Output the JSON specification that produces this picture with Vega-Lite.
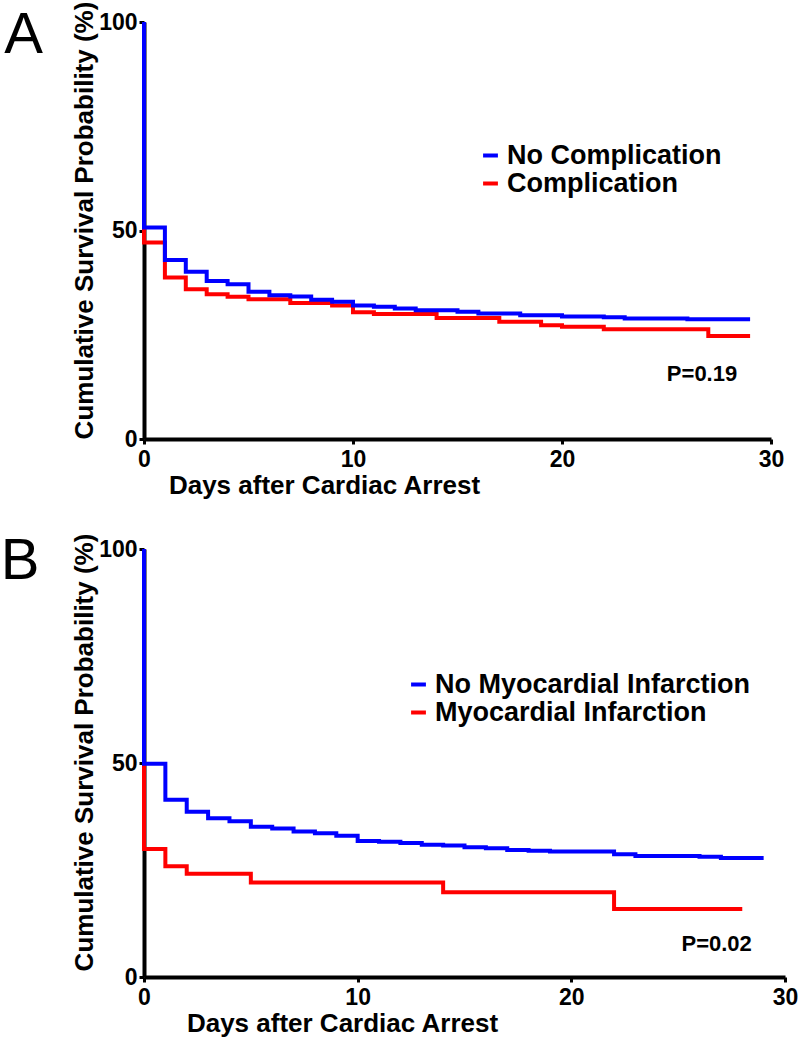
{
  "$schema": "https://vega.github.io/schema/vega-lite/v6.json",
  "background": "white",
  "padding": {"left": 0, "top": 1, "right": 5, "bottom": 5},
  "spacing": 34,
  "config": {
    "view": {"stroke": null},
    "font": "Liberation Sans",
    "axis": {
      "grid": false,
      "labelFlush": false,
      "labelOverlap": false,
      "domainColor": "black",
      "domainWidth": 4,
      "tickColor": "black",
      "tickWidth": 3,
      "tickSize": 5,
      "labelFont": "Liberation Sans",
      "labelFontWeight": "bold",
      "labelFontSize": 23,
      "labelColor": "black",
      "titleFont": "Liberation Sans",
      "titleFontWeight": "bold",
      "titleFontSize": 26,
      "titleColor": "black"
    },
    "legend": {
      "orient": "none",
      "padding": 0,
      "symbolType": "stroke",
      "symbolStrokeWidth": 4,
      "symbolSize": 220,
      "labelFont": "Liberation Sans",
      "labelFontWeight": "bold",
      "labelFontSize": 27,
      "labelColor": "black",
      "labelLimit": 0,
      "labelOffset": 3,
      "rowPadding": 0,
      "title": null
    }
  },
  "resolve": {"scale": {"color": "independent", "x": "independent", "y": "independent"}, "legend": {"color": "independent"}},
  "datasets": {
    "curvesA": [
      {"group": "Complication", "i": 0, "day": 0, "pct": 100},
      {"group": "Complication", "i": 1, "day": 0, "pct": 47.1},
      {"group": "Complication", "i": 2, "day": 1, "pct": 38.7},
      {"group": "Complication", "i": 3, "day": 2, "pct": 35.9},
      {"group": "Complication", "i": 4, "day": 3, "pct": 34.7},
      {"group": "Complication", "i": 5, "day": 4, "pct": 34.1},
      {"group": "Complication", "i": 6, "day": 5, "pct": 33.5},
      {"group": "Complication", "i": 7, "day": 7, "pct": 32.6},
      {"group": "Complication", "i": 8, "day": 9, "pct": 32.0},
      {"group": "Complication", "i": 9, "day": 10, "pct": 30.4},
      {"group": "Complication", "i": 10, "day": 11, "pct": 30.0},
      {"group": "Complication", "i": 11, "day": 14, "pct": 29.0},
      {"group": "Complication", "i": 12, "day": 17, "pct": 28.1},
      {"group": "Complication", "i": 13, "day": 19, "pct": 27.3},
      {"group": "Complication", "i": 14, "day": 20, "pct": 26.9},
      {"group": "Complication", "i": 15, "day": 22, "pct": 26.3},
      {"group": "Complication", "i": 16, "day": 27, "pct": 24.7},
      {"group": "Complication", "i": 17, "day": 29, "pct": 24.7},
      {"group": "No Complication", "i": 0, "day": 0, "pct": 100},
      {"group": "No Complication", "i": 1, "day": 0, "pct": 50.7},
      {"group": "No Complication", "i": 2, "day": 1, "pct": 42.9},
      {"group": "No Complication", "i": 3, "day": 2, "pct": 40.1},
      {"group": "No Complication", "i": 4, "day": 3, "pct": 37.9},
      {"group": "No Complication", "i": 5, "day": 4, "pct": 37.1},
      {"group": "No Complication", "i": 6, "day": 5, "pct": 35.3},
      {"group": "No Complication", "i": 7, "day": 6, "pct": 34.5},
      {"group": "No Complication", "i": 8, "day": 7, "pct": 34.2},
      {"group": "No Complication", "i": 9, "day": 8, "pct": 33.4},
      {"group": "No Complication", "i": 10, "day": 9, "pct": 32.9},
      {"group": "No Complication", "i": 11, "day": 10, "pct": 32.0},
      {"group": "No Complication", "i": 12, "day": 11, "pct": 31.7},
      {"group": "No Complication", "i": 13, "day": 12, "pct": 31.3},
      {"group": "No Complication", "i": 14, "day": 13, "pct": 30.9},
      {"group": "No Complication", "i": 15, "day": 15, "pct": 30.5},
      {"group": "No Complication", "i": 16, "day": 16, "pct": 30.1},
      {"group": "No Complication", "i": 17, "day": 18, "pct": 29.7},
      {"group": "No Complication", "i": 18, "day": 20, "pct": 29.4},
      {"group": "No Complication", "i": 19, "day": 22, "pct": 29.2},
      {"group": "No Complication", "i": 20, "day": 23, "pct": 28.9},
      {"group": "No Complication", "i": 21, "day": 26, "pct": 28.7},
      {"group": "No Complication", "i": 22, "day": 29, "pct": 28.7}
    ],
    "notesA": [
      {"kind": "panel", "label": "A", "day": -5.76, "pct": 92.6},
      {"kind": "p", "label": "P=0.19", "day": 26.7, "pct": 15.6}
    ],
    "curvesB": [
      {"group": "Myocardial Infarction", "i": 0, "day": 0, "pct": 100},
      {"group": "Myocardial Infarction", "i": 1, "day": 0, "pct": 29.9},
      {"group": "Myocardial Infarction", "i": 2, "day": 1, "pct": 25.9},
      {"group": "Myocardial Infarction", "i": 3, "day": 2, "pct": 24.1},
      {"group": "Myocardial Infarction", "i": 4, "day": 5, "pct": 22.1},
      {"group": "Myocardial Infarction", "i": 5, "day": 14, "pct": 19.8},
      {"group": "Myocardial Infarction", "i": 6, "day": 22, "pct": 15.9},
      {"group": "Myocardial Infarction", "i": 7, "day": 28, "pct": 15.9},
      {"group": "No Myocardial Infarction", "i": 0, "day": 0, "pct": 100},
      {"group": "No Myocardial Infarction", "i": 1, "day": 0, "pct": 49.8},
      {"group": "No Myocardial Infarction", "i": 2, "day": 1, "pct": 41.4},
      {"group": "No Myocardial Infarction", "i": 3, "day": 2, "pct": 38.6},
      {"group": "No Myocardial Infarction", "i": 4, "day": 3, "pct": 37.1},
      {"group": "No Myocardial Infarction", "i": 5, "day": 4, "pct": 36.4},
      {"group": "No Myocardial Infarction", "i": 6, "day": 5, "pct": 35.1},
      {"group": "No Myocardial Infarction", "i": 7, "day": 6, "pct": 34.7},
      {"group": "No Myocardial Infarction", "i": 8, "day": 7, "pct": 34.0},
      {"group": "No Myocardial Infarction", "i": 9, "day": 8, "pct": 33.6},
      {"group": "No Myocardial Infarction", "i": 10, "day": 9, "pct": 33.0},
      {"group": "No Myocardial Infarction", "i": 11, "day": 10, "pct": 31.8},
      {"group": "No Myocardial Infarction", "i": 12, "day": 11, "pct": 31.6},
      {"group": "No Myocardial Infarction", "i": 13, "day": 12, "pct": 31.3},
      {"group": "No Myocardial Infarction", "i": 14, "day": 13, "pct": 30.9},
      {"group": "No Myocardial Infarction", "i": 15, "day": 14, "pct": 30.7},
      {"group": "No Myocardial Infarction", "i": 16, "day": 15, "pct": 30.3},
      {"group": "No Myocardial Infarction", "i": 17, "day": 16, "pct": 30.1},
      {"group": "No Myocardial Infarction", "i": 18, "day": 17, "pct": 29.7},
      {"group": "No Myocardial Infarction", "i": 19, "day": 18, "pct": 29.5},
      {"group": "No Myocardial Infarction", "i": 20, "day": 19, "pct": 29.3},
      {"group": "No Myocardial Infarction", "i": 21, "day": 22, "pct": 28.7},
      {"group": "No Myocardial Infarction", "i": 22, "day": 23, "pct": 28.3},
      {"group": "No Myocardial Infarction", "i": 23, "day": 26, "pct": 28.1},
      {"group": "No Myocardial Infarction", "i": 24, "day": 27, "pct": 27.8},
      {"group": "No Myocardial Infarction", "i": 25, "day": 29, "pct": 27.8}
    ],
    "notesB": [
      {"kind": "panel", "label": "B", "day": -5.8, "pct": 93.0},
      {"kind": "p", "label": "P=0.02", "day": 26.8, "pct": 7.8}
    ]
  },
  "vconcat": [
    {
      "width": 627,
      "height": 417,
      "layer": [
        {
          "data": {"name": "curvesA"},
          "mark": {"type": "line", "interpolate": "step-after", "strokeWidth": 4},
          "encoding": {
            "x": {"field": "day", "type": "quantitative", "scale": {"domain": [0, 30], "nice": false},
                  "axis": {"values": [0, 10, 20, 30], "title": "Days after Cardiac Arrest", "labelPadding": 4, "titlePadding": 1, "titleX": 180, "titleAlign": "center"}},
            "y": {"field": "pct", "type": "quantitative", "scale": {"domain": [0, 100], "nice": false},
                  "axis": {"values": [0, 50, 100], "title": "Cumulative Survival Probability (%)", "titleY": 198, "labelPadding": 2, "titlePadding": 1}},
            "color": {"field": "group", "type": "nominal",
                      "scale": {"domain": ["No Complication", "Complication"], "range": ["#0000ff", "#ff0000"]},
                      "legend": {"legendX": 333, "legendY": 120}},
            "order": {"field": "i", "type": "quantitative"}
          }
        },
        {
          "data": {"name": "notesA"},
          "transform": [{"filter": "datum.kind === 'panel'"}],
          "mark": {"type": "text", "fontSize": 58, "font": "Liberation Sans", "fontWeight": "normal", "align": "center", "baseline": "alphabetic", "color": "black"},
          "encoding": {
            "x": {"field": "day", "type": "quantitative"},
            "y": {"field": "pct", "type": "quantitative"},
            "text": {"field": "label"}
          }
        },
        {
          "data": {"name": "notesA"},
          "transform": [{"filter": "datum.kind === 'p'"}],
          "mark": {"type": "text", "fontSize": 22, "font": "Liberation Sans", "fontWeight": "bold", "align": "center", "baseline": "middle", "color": "black"},
          "encoding": {
            "x": {"field": "day", "type": "quantitative"},
            "y": {"field": "pct", "type": "quantitative"},
            "text": {"field": "label"}
          }
        }
      ]
    },
    {
      "width": 641,
      "height": 428,
      "layer": [
        {
          "data": {"name": "curvesB"},
          "mark": {"type": "line", "interpolate": "step-after", "strokeWidth": 4},
          "encoding": {
            "x": {"field": "day", "type": "quantitative", "scale": {"domain": [0, 30], "nice": false},
                  "axis": {"values": [0, 10, 20, 30], "title": "Days after Cardiac Arrest", "labelPadding": 4, "titlePadding": 1, "titleX": 198, "titleAlign": "center"}},
            "y": {"field": "pct", "type": "quantitative", "scale": {"domain": [0, 100], "nice": false},
                  "axis": {"values": [0, 50, 100], "title": "Cumulative Survival Probability (%)", "titleY": 203, "labelPadding": 2, "titlePadding": 1}},
            "color": {"field": "group", "type": "nominal",
                      "scale": {"domain": ["No Myocardial Infarction", "Myocardial Infarction"], "range": ["#0000ff", "#ff0000"]},
                      "legend": {"legendX": 261, "legendY": 122}},
            "order": {"field": "i", "type": "quantitative"}
          }
        },
        {
          "data": {"name": "notesB"},
          "transform": [{"filter": "datum.kind === 'panel'"}],
          "mark": {"type": "text", "fontSize": 58, "font": "Liberation Sans", "fontWeight": "normal", "align": "center", "baseline": "alphabetic", "color": "black"},
          "encoding": {
            "x": {"field": "day", "type": "quantitative"},
            "y": {"field": "pct", "type": "quantitative"},
            "text": {"field": "label"}
          }
        },
        {
          "data": {"name": "notesB"},
          "transform": [{"filter": "datum.kind === 'p'"}],
          "mark": {"type": "text", "fontSize": 22, "font": "Liberation Sans", "fontWeight": "bold", "align": "center", "baseline": "middle", "color": "black"},
          "encoding": {
            "x": {"field": "day", "type": "quantitative"},
            "y": {"field": "pct", "type": "quantitative"},
            "text": {"field": "label"}
          }
        }
      ]
    }
  ]
}
